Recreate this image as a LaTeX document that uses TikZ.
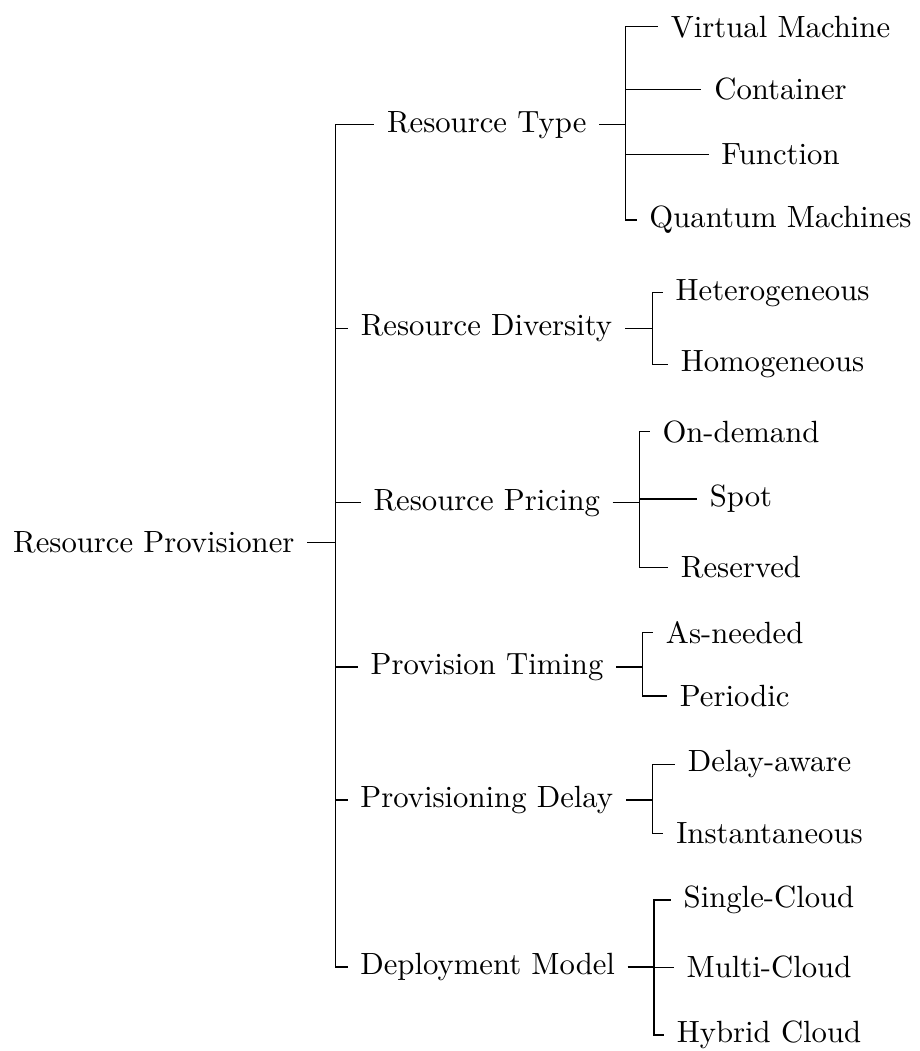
\documentclass[tikz,border=0pt]{standalone}
\begin{document}
\begin{tikzpicture}[x=0.3257pt,y=-0.3257pt,
  lbl/.style={inner sep=4pt, anchor=center},
  conn/.style={line width=0.4pt}]
\useasboundingbox (0,0) rectangle (920,1051);
% root
\node[lbl] (root) at (153.8,542.7) {Resource Provisioner};
% level 1
\node[lbl] (rt)  at (486.7,124.7) {Resource Type};
\node[lbl] (div) at (486.5,328.5) {Resource Diversity};
\node[lbl] (pri) at (486.8,502.7) {Resource Pricing};
\node[lbl] (tim) at (487.0,667.0) {Provision Timing};
\node[lbl] (del) at (486.8,800.0) {Provisioning Delay};
\node[lbl] (dep) at (487.7,967.0) {Deployment Model};
% leaves: resource type
\node[lbl] (vm)  at (780.5,26.7)  {Virtual Machine};
\node[lbl] (con) at (780.5,89.3)  {Container};
\node[lbl] (fun) at (780.5,154.3) {Function};
\node[lbl] (qm)  at (780.5,220.0) {Quantum Machines};
% diversity
\node[lbl] (het) at (772.5,292.7) {Heterogeneous};
\node[lbl] (hom) at (772.5,364.3) {Homogeneous};
% pricing
\node[lbl] (ond) at (741.0,431.7) {On-demand};
\node[lbl] (spt) at (741.0,499.0) {Spot};
\node[lbl] (res) at (741.0,567.3) {Reserved};
% timing
\node[lbl] (asn) at (734.7,632.3) {As-needed};
\node[lbl] (per) at (734.7,696.0) {Periodic};
% delay
\node[lbl] (daw) at (769.5,764.3) {Delay-aware};
\node[lbl] (ins) at (769.5,833.3) {Instantaneous};
% deployment
\node[lbl] (sc) at (769.0,900.0)  {Single-Cloud};
\node[lbl] (mc) at (769.0,967.3)  {Multi-Cloud};
\node[lbl] (hc) at (769.0,1035.0) {Hybrid Cloud};
% fork points
\coordinate (f0) at (335.5,542.7);
\coordinate (f1) at (625.7,124.7);
\coordinate (f2) at (652.3,328.5);
\coordinate (f3) at (639.5,502.7);
\coordinate (f4) at (642.7,667.0);
\coordinate (f5) at (652.7,800.0);
\coordinate (f6) at (654.0,967.0);
% edges
\foreach \c in {rt,div,pri,tim,del,dep} \draw[conn] (root.east) -- (f0) |- (\c.west);
\foreach \c in {vm,con,fun,qm} \draw[conn] (rt.east) -- (f1) |- (\c.west);
\foreach \c in {het,hom} \draw[conn] (div.east) -- (f2) |- (\c.west);
\foreach \c in {ond,spt,res} \draw[conn] (pri.east) -- (f3) |- (\c.west);
\foreach \c in {asn,per} \draw[conn] (tim.east) -- (f4) |- (\c.west);
\foreach \c in {daw,ins} \draw[conn] (del.east) -- (f5) |- (\c.west);
\foreach \c in {sc,mc,hc} \draw[conn] (dep.east) -- (f6) |- (\c.west);
\end{tikzpicture}
\end{document}
